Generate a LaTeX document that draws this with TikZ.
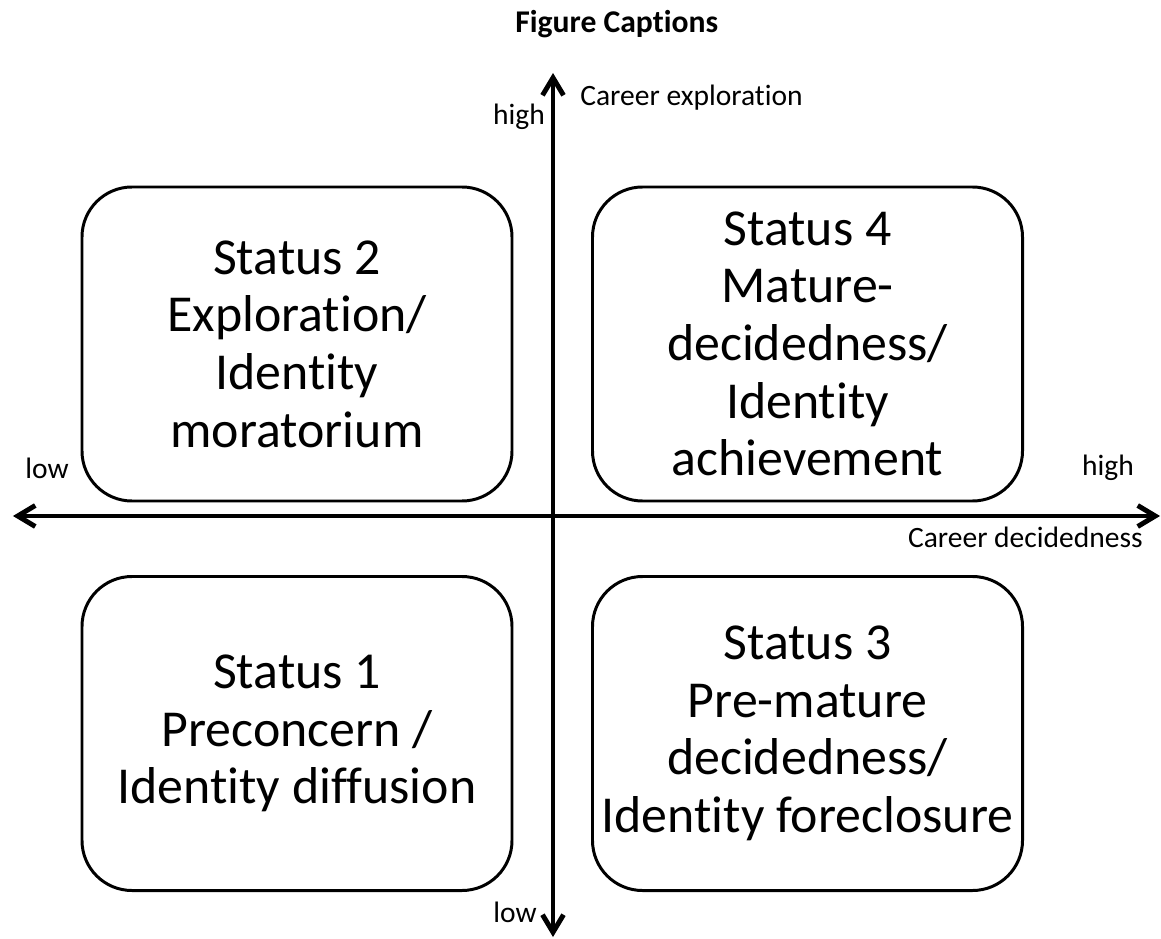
\documentclass[tikz,border=0pt]{standalone}
\usepackage{fontspec}
\setmainfont{Carlito}[Ligatures=NoCommon]
\usepackage{tikz}
\usetikzlibrary{arrows.meta}

\begin{document}
\begin{tikzpicture}[
  statusbox/.style={draw, line width=1.7pt, rounded corners=1cm, minimum width=8.6cm, minimum height=6.28cm, align=center, font=\fontsize{29.5}{32.8}\selectfont},
  axislabel/.style={inner sep=0pt, font=\fontsize{16.8}{19}\selectfont},
  axisline/.style={line width=2.8pt, {Straight Barb[length=3.5mm,width=4.2mm]}-{Straight Barb[length=3.5mm,width=4.2mm]}}
]
\useasboundingbox (-11.06,-8.44) rectangle (12.16,10.32);

% Title
\node[inner sep=0pt, anchor=base west, font=\bfseries\fontsize{18}{21}\selectfont] (title) at (-0.76,9.66) {Figure Captions};

% Axes
\coordinate (xlow) at (-10.8,0);
\coordinate (xhigh) at (12.14,0);
\coordinate (ylow) at (0,-8.42);
\coordinate (yhigh) at (0,8.86);
\draw[axisline] (xlow) -- (xhigh);
\draw[axisline] (ylow) -- (yhigh);

% Axis labels
\node[axislabel, anchor=base] (yhighlab) at (-0.68,7.82) {high};
\node[axislabel, anchor=base west] (ytitle) at (0.54,8.2) {Career exploration};
\node[axislabel, anchor=base] (ylowlab) at (-0.76,-8.12) {low};
\node[axislabel, anchor=base] (xlowlab) at (-10.12,0.76) {low};
\node[axislabel, anchor=base] (xhighlab) at (11.1,0.82) {high};
\node[axislabel, anchor=base east] (xtitle) at (11.8,-0.62) {Career decidedness};

% Status boxes
\node[statusbox] (status2) at (-5.12,3.44) {Status 2\\Exploration/\\Identity\\moratorium};
\node[statusbox] (status4) at (5.09,3.44) {Status 4\\Mature-\\decidedness/\\Identity\\achievement};
\node[statusbox] (status1) at (-5.12,-4.35) {Status 1\\Preconcern /\\Identity diffusion};
\node[statusbox] (status3) at (5.09,-4.35) {Status 3\\Pre-mature\\decidedness/\\Identity foreclosure};
\end{tikzpicture}
\end{document}
